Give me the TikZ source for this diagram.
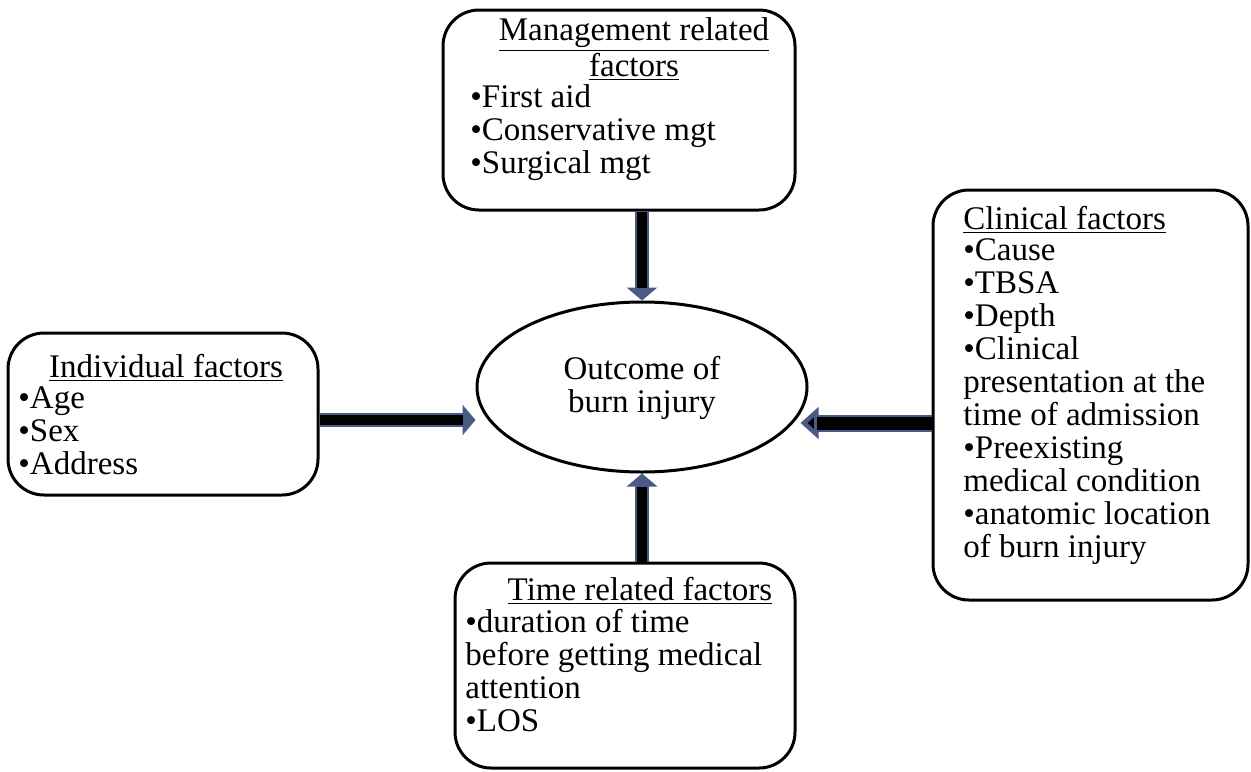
\documentclass[tikz,border=0pt]{standalone}
\usepackage{fontspec}
\setmainfont{Liberation Serif}
\usetikzlibrary{arrows.meta,shapes.geometric}
\definecolor{slate}{HTML}{4A5A86}
\tikzset{
  box/.style={draw=black, line width=1.5pt, rounded corners=18pt, fill=white, inner sep=0pt},
  txt/.style={inner sep=0pt, align=left, font=\fontsize{16.5}{16.5}\selectfont},
  ttl/.style={inner sep=0pt, align=center, font=\fontsize{16.5}{16.5}\selectfont},
  fatarrow/.style={line width=7pt, draw=slate, -{Triangle[width=15pt,length=6.5pt]},
    postaction={draw=black, line width=4.6pt, shorten >=6.5pt, -}},
}
\begin{document}
\begin{tikzpicture}[x=0.5pt,y=-0.5pt]
\useasboundingbox (0,0) rectangle (1251,771);
% boxes
\node[box, minimum width=176pt, minimum height=100pt] (mgmt) at (619,110) {};
\node[box, minimum width=155pt, minimum height=81pt] (ind) at (163,414) {};
\node[box, minimum width=157.5pt, minimum height=205pt] (clin) at (1090.5,395) {};
\node[box, minimum width=170pt, minimum height=102.5pt] (time) at (625,665.5) {};
\node[draw=black, line width=1.5pt, ellipse, minimum width=165pt, minimum height=85pt, inner sep=0pt] (ell) at (642,387) {};
\node[ttl] (elltxt) at (642,388) {Outcome of\\burn injury};
% texts
\node[ttl, anchor=north] (mgmtT) at (634,17) {\underline{Management related}\\\underline{factors}};
\node[txt, anchor=north west] (mgmtL) at (470,84) {•First aid\\•Conservative mgt\\•Surgical mgt};
\node[ttl, anchor=north] (indT) at (166,354) {\underline{Individual factors}};
\node[txt, anchor=north west] (indL) at (18,386) {•Age\\•Sex\\•Address};
\node[txt, anchor=north west] (clinT) at (963,206) {\underline{Clinical factors}};
\node[txt, anchor=north west] (clinL) at (963,238) {•Cause\\•TBSA\\•Depth\\•Clinical\\presentation at the\\time of admission\\•Preexisting\\medical condition\\•anatomic location\\of burn injury};
\node[ttl, anchor=north] (timeT) at (640,577) {\underline{Time related factors}};
\node[txt, anchor=north west] (timeL) at (465,609) {•duration of time\\before getting medical\\attention\\•LOS};
% connectors
\coordinate (indA) at ([yshift=-3pt]ind.east);
\coordinate (clinA) at ([yshift=-14pt]clin.west);
\draw[fatarrow] (ell.north |- mgmt.south) -- (ell.north);
\draw[fatarrow] (ell.south |- time.north) -- (ell.south);
\draw[fatarrow] (indA) -- (ell.west |- indA);
\draw[line width=8.5pt, draw=slate, -{Triangle[width=15.5pt,length=9pt,fill=black]},
  postaction={draw=black, line width=6.5pt, shorten >=8pt, -}] (clinA) -- ([xshift=-4pt]ell.east |- clinA);
\end{tikzpicture}
\end{document}
